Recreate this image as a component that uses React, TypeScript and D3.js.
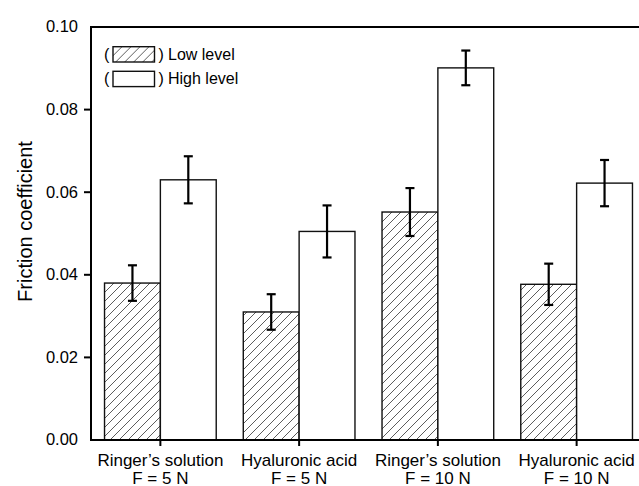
import * as d3 from 'd3';
import React from 'react';

const categories = ["Ringer’s solution|F = 5 N", "Hyaluronic acid|F = 5 N", "Ringer’s solution|F = 10 N", "Hyaluronic acid|F = 10 N"];
const series = ['Low level', 'High level'];
const lowValues = [0.038, 0.031, 0.0552, 0.0377];
const lowErrors = [0.0043, 0.0043, 0.0058, 0.005];
const highValues = [0.063, 0.0505, 0.0901, 0.0622];
const highErrors = [0.0057, 0.0063, 0.0042, 0.0056];
const yTicks = [0, 0.02, 0.04, 0.06, 0.08, 0.1];

const WIDTH = 639;
const HEIGHT = 486;
const MARGIN = { top: 27, right: -7, bottom: 46, left: 91 };
const FONT = "'Liberation Sans', Arial, sans-serif";

export default function App() {
  const boundsWidth = WIDTH - MARGIN.left - MARGIN.right;
  const boundsHeight = HEIGHT - MARGIN.top - MARGIN.bottom;

  const xScale = d3.scaleBand().domain(categories).range([0, boundsWidth]).paddingInner(0.195).paddingOuter(0.0975);
  const xSub = d3.scaleBand().domain(series).range([0, xScale.bandwidth()]);
  const yScale = d3.scaleLinear().domain([0, 0.1]).range([boundsHeight, 0]);

  const data = categories.map((c, i) => [
    { cat: c, s: series[0], v: lowValues[i], e: lowErrors[i] },
    { cat: c, s: series[1], v: highValues[i], e: highErrors[i] },
  ]).flat();

  const bars = data.map((d, i) => {
    const x = (xScale(d.cat) ?? 0) + (xSub(d.s) ?? 0);
    const y = yScale(d.v);
    const fill = d.s === series[0] ? 'url(#hatch)' : 'white';
    return (
      <rect key={i} x={x} y={y} width={xSub.bandwidth()} height={boundsHeight - y}
        fill={fill} stroke="#111" strokeWidth={1.4} />
    );
  });

  const errors = data.map((d, i) => {
    const cx = (xScale(d.cat) ?? 0) + (xSub(d.s) ?? 0) + xSub.bandwidth() / 2;
    const y1 = yScale(d.v + d.e);
    const y2 = yScale(d.v - d.e);
    return (
      <g key={i} stroke="#000" strokeWidth={2.2}>
        <line x1={cx} x2={cx} y1={y1} y2={y2} />
        <line x1={cx - 4.5} x2={cx + 4.5} y1={y1} y2={y1} />
        <line x1={cx - 4.5} x2={cx + 4.5} y1={y2} y2={y2} />
      </g>
    );
  });

  const yLabels = yTicks.map((t, i) => (
    <g key={i} transform={`translate(0,${yScale(t)})`}>
      {t > 0 && t < 0.1 && <line x1={-7} x2={0} stroke="#000" strokeWidth={2} />}
      <text x={-13} dy="0.33em" textAnchor="end" fontSize={16.5} fontFamily={FONT}>{t.toFixed(2)}</text>
    </g>
  ));

  // two-line category labels, split on "|"
  const xLabels = categories.map((c, i) => {
    const cx = (xScale(c) ?? 0) + xScale.bandwidth() / 2;
    const [l1, l2] = c.split('|');
    return (
      <g key={i} transform={`translate(${cx},${boundsHeight})`}>
        <line y1={0} y2={6} stroke="#000" strokeWidth={2} />
        <text y={25.5} textAnchor="middle" fontSize={17} fontFamily={FONT}>{l1}</text>
        <text y={43.5} textAnchor="middle" fontSize={17} fontFamily={FONT}>{l2}</text>
      </g>
    );
  });

  const legend = series.map((s, i) => (
    <g key={i} transform={`translate(13,${19.7 + i * 24.6})`} fontFamily={FONT} fontSize={16}>
      <text x={0} y={12.8}>(</text>
      <rect x={9} y={0} width={41.5} height={15.3} fill={i === 0 ? 'url(#hatch)' : 'white'} stroke="#111" strokeWidth={1.4} />
      <text x={54.5} y={12.8}>)</text>
      <text x={64} y={12.8}>{s}</text>
    </g>
  ));

  return (
    <svg width={WIDTH} height={HEIGHT} style={{ position: 'absolute', left: 0, top: 0, background: 'white' }}>
      <defs>
        <pattern id="hatch" patternUnits="userSpaceOnUse" width={9} height={9}>
          <path d="M-2,2 L2,-2 M0,9 L9,0 M7,11 L11,7" stroke="#333" strokeWidth={0.8} />
        </pattern>
      </defs>
      <g transform={`translate(${MARGIN.left},${MARGIN.top})`}>
        {bars}
        {errors}
        <line x1={0} x2={0} y1={-1} y2={boundsHeight + 1} stroke="#000" strokeWidth={2} />
        <line x1={-1} x2={boundsWidth} y1={0} y2={0} stroke="#000" strokeWidth={2} />
        <line x1={-1} x2={boundsWidth} y1={boundsHeight} y2={boundsHeight} stroke="#000" strokeWidth={2} />
        {yLabels}
        {xLabels}
        {legend}
        <text transform={`translate(-59,194.5) rotate(-90)`} textAnchor="middle"
          fontSize={20} fontFamily={FONT}>Friction coefficient</text>
      </g>
    </svg>
  );
}
